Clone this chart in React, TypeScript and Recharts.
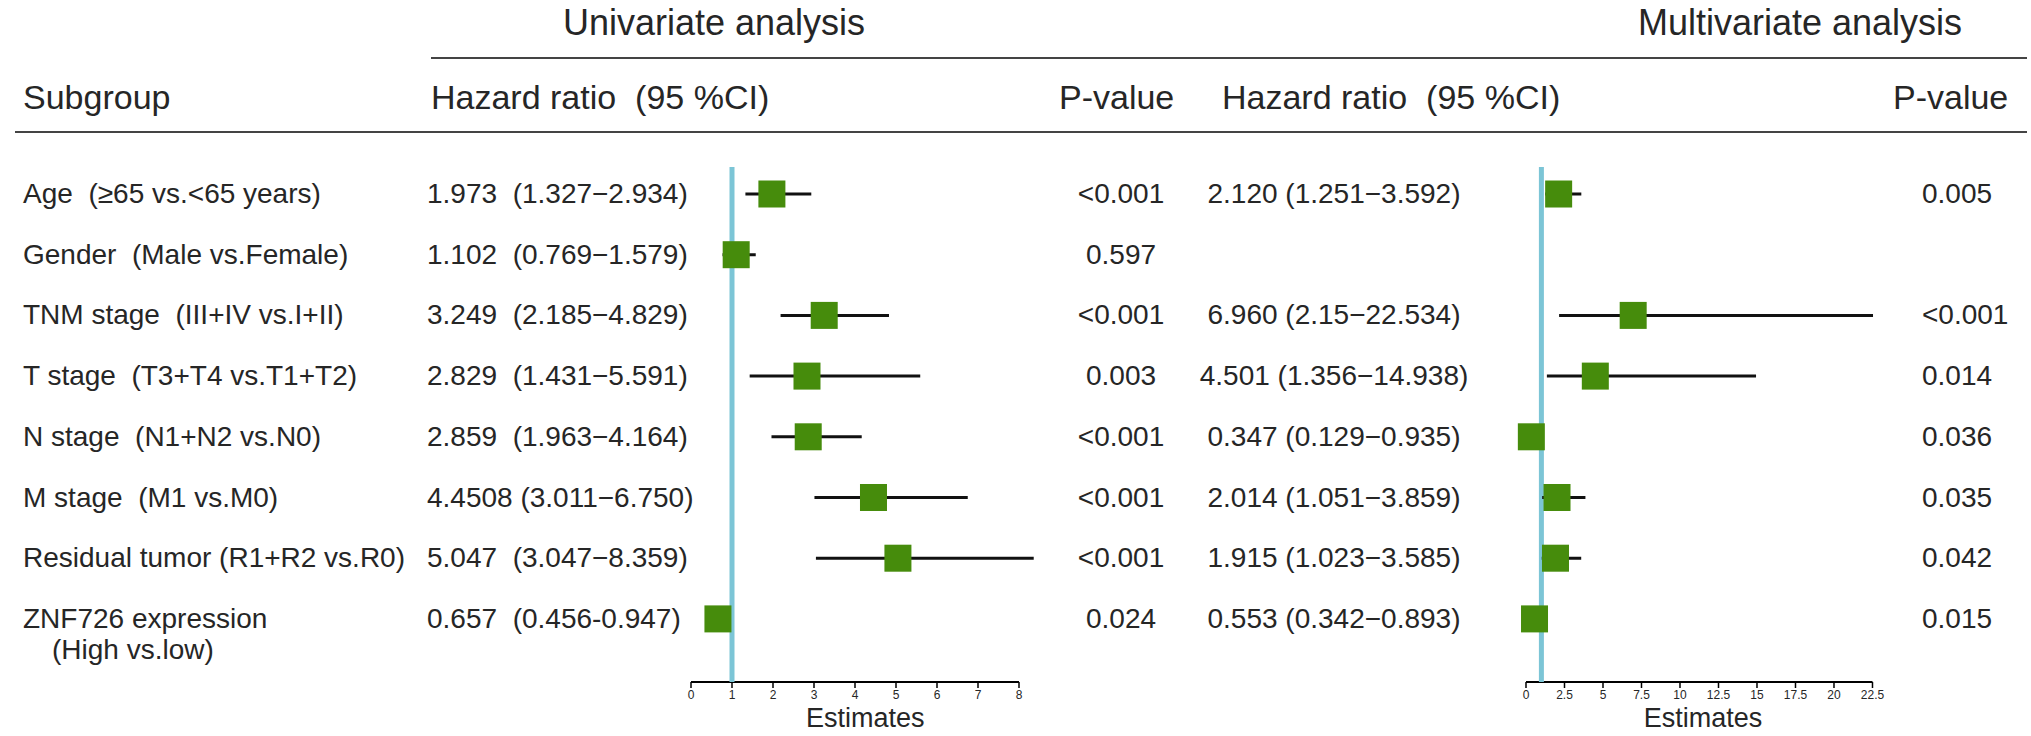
import React from 'react';
import { ScatterChart, Scatter, XAxis, YAxis, ErrorBar, ReferenceLine } from 'recharts';

// ---------- data ----------
const subgroups = [
  'Age  (≥65 vs.<65 years)',
  'Gender  (Male vs.Female)',
  'TNM stage  (III+IV vs.I+II)',
  'T stage  (T3+T4 vs.T1+T2)',
  'N stage  (N1+N2 vs.N0)',
  'M stage  (M1 vs.M0)',
  'Residual tumor (R1+R2 vs.R0)',
  'ZNF726 expression',
];
const subgroupSecondLine = ['', '', '', '', '', '', '', '(High vs.low)'];

const uniHR = [1.973, 1.102, 3.249, 2.829, 2.859, 4.4508, 5.047, 0.657];
const uniLow = [1.327, 0.769, 2.185, 1.431, 1.963, 3.011, 3.047, 0.456];
const uniHigh = [2.934, 1.579, 4.829, 5.591, 4.164, 6.75, 8.359, 0.947];
const uniText = [
  '1.973  (1.327−2.934)',
  '1.102  (0.769−1.579)',
  '3.249  (2.185−4.829)',
  '2.829  (1.431−5.591)',
  '2.859  (1.963−4.164)',
  '4.4508 (3.011−6.750)',
  '5.047  (3.047−8.359)',
  '0.657  (0.456-0.947)',
];
const uniP = ['<0.001', '0.597', '<0.001', '0.003', '<0.001', '<0.001', '<0.001', '0.024'];

const multiHR = [2.12, null, 6.96, 4.501, 0.347, 2.014, 1.915, 0.553];
const multiLow = [1.251, null, 2.15, 1.356, 0.129, 1.051, 1.023, 0.342];
const multiHigh = [3.592, null, 22.534, 14.938, 0.935, 3.859, 3.585, 0.893];
const multiText = [
  '2.120 (1.251−3.592)',
  '',
  '6.960 (2.15−22.534)',
  '4.501 (1.356−14.938)',
  '0.347 (0.129−0.935)',
  '2.014 (1.051−3.859)',
  '1.915 (1.023−3.585)',
  '0.553 (0.342−0.893)',
];
const multiP = ['0.005', '', '<0.001', '0.014', '0.036', '0.035', '0.042', '0.015'];

const uniTicks = [0, 1, 2, 3, 4, 5, 6, 7, 8];
const multiTicks = [0, 2.5, 5, 7.5, 10, 12.5, 15, 17.5, 20, 22.5];

const titles = ['Univariate analysis', 'Multivariate analysis'];
const headers = ['Subgroup', 'Hazard ratio  (95 %CI)', 'P-value'];
const axisLabel = 'Estimates';

// ---------- layout ----------
const FONT = '"Liberation Sans", Arial, Helvetica, sans-serif';
const TEXT = '#262626';
const GREEN = '#468c0c';
const CYAN = '#7cc5d6';
const ROW_Y0 = 194;
const ROW_DY = 60.7;
const PLOT_TOP = 167;
const PLOT_BOTTOM = 682;
const Y_DOMAIN: [number, number] = [(PLOT_TOP - ROW_Y0) / ROW_DY, (PLOT_BOTTOM - ROW_Y0) / ROW_DY];
const rowY = (i: number) => ROW_Y0 + ROW_DY * i;

type ForestProps = {
  hr: (number | null)[];
  low: (number | null)[];
  high: (number | null)[];
  domainMax: number;
  axisEnd: number;
  ticks: number[];
  plotLeft: number;
  unitPx: number;
};

const M_SIDE = 24;
const X_AXIS_H = 50;

function Forest({ hr, low, high, domainMax, axisEnd, ticks, plotLeft, unitPx }: ForestProps) {
  const data = hr
    .map((v, i) =>
      v == null
        ? null
        : { x: v, y: i, err: [v - (low[i] as number), (high[i] as number) - v] }
    )
    .filter(Boolean) as { x: number; y: number; err: number[] }[];
  const plotW = domainMax * unitPx;
  const width = plotW + 2 * M_SIDE;
  const height = PLOT_BOTTOM - PLOT_TOP + X_AXIS_H;
  return (
    <div style={{ position: 'absolute', left: plotLeft - M_SIDE, top: PLOT_TOP }}>
      <ScatterChart width={width} height={height} margin={{ top: 0, right: M_SIDE, bottom: 0, left: M_SIDE }}>
        <XAxis
          type="number"
          dataKey="x"
          domain={[0, domainMax]}
          ticks={ticks}
          interval={0}
          axisLine={false}
          tickLine={{ stroke: '#000', strokeWidth: 1.5 }}
          tickSize={6}
          tick={{ fontSize: 12, fill: TEXT }}
          height={X_AXIS_H}
          label={{ value: axisLabel, position: 'insideBottom', offset: 5, fontSize: 27, fill: TEXT }}
        />
        <YAxis type="number" dataKey="y" domain={Y_DOMAIN} reversed hide width={0} />
        <ReferenceLine
          segment={[
            { x: 0, y: Y_DOMAIN[1] },
            { x: axisEnd, y: Y_DOMAIN[1] },
          ]}
          stroke="#000"
          strokeWidth={2}
          ifOverflow="visible"
        />
        <ReferenceLine x={1} stroke={CYAN} strokeWidth={5} ifOverflow="visible" />
        <Scatter
          data={data}
          isAnimationActive={false}
          shape={(p: any) => (
            <rect x={p.cx - 13.5} y={p.cy - 13.5} width={27} height={27} fill={GREEN} />
          )}
        >
          <ErrorBar dataKey="err" direction="x" width={0} stroke="#111" strokeWidth={3} />
        </Scatter>
      </ScatterChart>
    </div>
  );
}

const abs = (style: React.CSSProperties): React.CSSProperties => ({
  position: 'absolute',
  whiteSpace: 'pre',
  lineHeight: 1,
  color: TEXT,
  ...style,
});

export default function App() {
  const rowFont = 28;
  return (
    <div
      style={{
        position: 'absolute',
        left: 0,
        top: 0,
        width: 2031,
        height: 736,
        background: '#fff',
        fontFamily: FONT,
        overflow: 'hidden',
      }}
    >
      {/* titles */}
      <div style={abs({ left: 714, top: 23, fontSize: 36, transform: 'translate(-50%,-50%)' })}>{titles[0]}</div>
      <div style={abs({ left: 1800, top: 23, fontSize: 36, transform: 'translate(-50%,-50%)' })}>{titles[1]}</div>
      <div style={{ position: 'absolute', left: 431, top: 57, width: 2027 - 431, height: 2, background: '#444' }} />

      {/* headers */}
      <div style={abs({ left: 23, top: 97, fontSize: 34, transform: 'translateY(-50%)' })}>{headers[0]}</div>
      <div style={abs({ left: 431, top: 97, fontSize: 34, transform: 'translateY(-50%)' })}>{headers[1]}</div>
      <div style={abs({ left: 1059, top: 97, fontSize: 34, transform: 'translateY(-50%)' })}>{headers[2]}</div>
      <div style={abs({ left: 1222, top: 97, fontSize: 34, transform: 'translateY(-50%)' })}>{headers[1]}</div>
      <div style={abs({ left: 1893, top: 97, fontSize: 34, transform: 'translateY(-50%)' })}>{headers[2]}</div>
      <div style={{ position: 'absolute', left: 15, top: 131, width: 2027 - 15, height: 2, background: '#444' }} />

      {/* rows */}
      {subgroups.map((s, i) => (
        <React.Fragment key={i}>
          <div style={abs({ left: 23, top: rowY(i), fontSize: rowFont, transform: 'translateY(-50%)' })}>{s}</div>
          {subgroupSecondLine[i] ? (
            <div style={abs({ left: 52, top: rowY(i) + 31, fontSize: rowFont, transform: 'translateY(-50%)' })}>
              {subgroupSecondLine[i]}
            </div>
          ) : null}
          <div style={abs({ left: 427, top: rowY(i), fontSize: rowFont, transform: 'translateY(-50%)' })}>{uniText[i]}</div>
          <div style={abs({ left: 1121, top: rowY(i), fontSize: rowFont, transform: 'translate(-50%,-50%)' })}>{uniP[i]}</div>
          <div style={abs({ left: 1334, top: rowY(i), fontSize: rowFont, transform: 'translate(-50%,-50%)' })}>{multiText[i]}</div>
          <div style={abs({ left: 1922, top: rowY(i), fontSize: rowFont, transform: 'translateY(-50%)' })}>{multiP[i]}</div>
        </React.Fragment>
      ))}

      <Forest hr={uniHR} low={uniLow} high={uniHigh} domainMax={8.5} axisEnd={8} ticks={uniTicks} plotLeft={691} unitPx={41} />
      <Forest hr={multiHR} low={multiLow} high={multiHigh} domainMax={23} axisEnd={22.5} ticks={multiTicks} plotLeft={1526} unitPx={15.4} />
    </div>
  );
}
